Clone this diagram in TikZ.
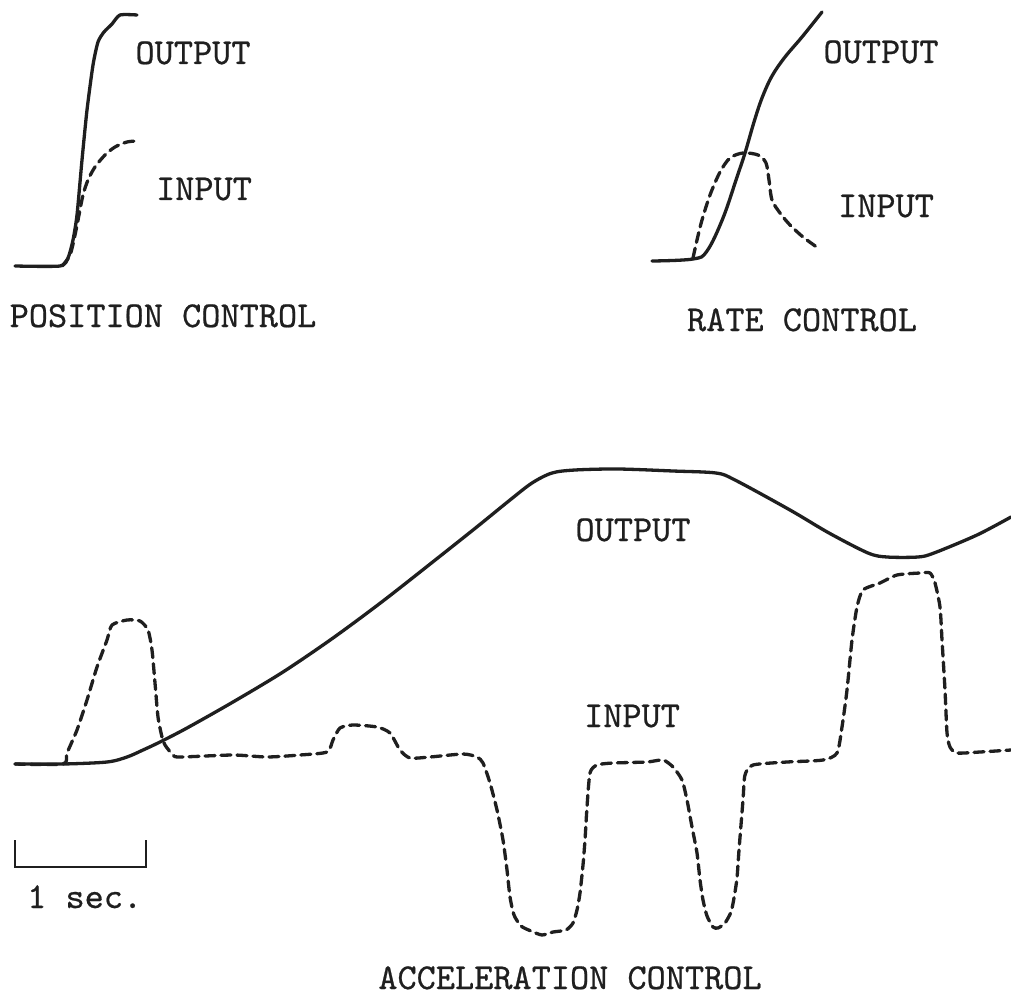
\documentclass[tikz,border=0pt]{standalone}
\usepackage{fontspec}
\newfontfamily\twfont{lmmono10-regular}[Extension=.otf, FakeBold=0.6]
\begin{document}
\begin{tikzpicture}[x=1pt,y=-1pt,
  trace/.style={line width=3.3pt, line cap=round, line join=round, draw=black!88},
  dtrace/.style={trace, dash pattern=on 10pt off 6pt},
  lbl/.style={font=\fontsize{36.5}{40}\twfont, text=black!88, inner sep=0pt, anchor=base},
  bar/.style={line width=2.8pt, draw=black!88}]
\useasboundingbox[fill=white] (0,0) rectangle (1011,1003);

% ---------- POSITION CONTROL ----------
\draw[trace] plot[smooth, tension=0.4] coordinates {(15,266) (60,266) (68,258) (73,240) (77,215) (82,160) (87,110) (93,65) (98,42) (104,32) (112,24) (120,15) (137,15)};
\draw[dtrace] plot[smooth, tension=0.5] coordinates {(62,266) (70,255) (75,235) (79,215) (83,195) (88,180) (95,167) (105,155) (115,147) (127,142) (137,141)};
\node[lbl] (posout) at (193,64) {OUTPUT};
\node[lbl] (posin) at (204,200) {INPUT};
\node[lbl] (postitle) at (163,327) {POSITION CONTROL};

% ---------- RATE CONTROL ----------
\draw[trace] plot[smooth, tension=0.6] coordinates {(652,261) (693,259) (707,251) (723,218) (737,177) (745,153) (754,122) (762,98) (772,76) (785,57) (802,37) (822,12)};
\draw[dtrace] plot[smooth, tension=0.5] coordinates {(693,258) (697,240) (702,220) (710,195) (720,172) (730,158) (743,153) (758,155) (766,163) (769,180) (772,200) (780,213) (790,225) (803,237) (818,248)};
\node[lbl] (rateout) at (881,63) {OUTPUT};
\node[lbl] (ratein) at (886,217) {INPUT};
\node[lbl] (ratetitle) at (802,331) {RATE CONTROL};

% ---------- ACCELERATION CONTROL ----------
\draw[trace] plot[smooth, tension=0.5] coordinates {(15,764) (63,764) (107,762) (127,757) (143,750) (160,742) (187,728) (233,702) (283,672) (333,638) (383,601) (439,557) (478,526) (510,500) (532,483) (552,473) (575,470) (618,469) (673,471) (716,473) (735,480) (790,510) (829,533) (868,553) (887,557) (918,557) (934,553) (977,535) (1011,517)};
\draw[dtrace] plot[smooth, tension=0.4] coordinates {(15,764) (63,764) (67,753) (77,730) (87,700) (97,667) (107,640) (112,625) (127,620) (140,621) (148,630) (152,650) (155,683) (158,717) (162,737) (165,745) (173,755) (180,757) (233,755) (267,757) (300,755) (327,752) (333,740) (340,728) (353,725) (377,727) (390,733) (400,750) (410,758) (430,757) (463,754) (477,757) (483,763) (490,783) (497,810) (503,840) (507,870) (510,897) (514,915) (521,926) (531,931) (542,935) (553,932) (566,930) (573,923) (577,910) (580,893) (583,865) (585,840) (587,807) (590,773) (597,765) (613,763) (647,762) (663,760) (673,767) (682,780) (687,800) (692,827) (697,853) (700,880) (703,900) (707,916) (713,927) (718,928) (725,923) (731,912) (734,898) (737,878) (739,850) (743,800) (745,775) (753,765) (787,762) (823,760) (837,753) (842,727) (847,690) (852,640) (857,607) (863,590) (880,583) (897,575) (920,573) (930,573) (935,583) (940,607) (942,640) (945,690) (947,733) (950,747) (957,753) (980,752) (1011,750)};
\node[lbl] (accout) at (633,541) {OUTPUT};
\node[lbl] (accin) at (632,727) {INPUT};
\node[lbl] (acctitle) at (570,989) {ACCELERATION CONTROL};

% scale bar
\coordinate (sb1) at (15,840);
\coordinate (sb2) at (15,867);
\coordinate (sb3) at (146,867);
\coordinate (sb4) at (146,840);
\draw[bar] (sb1) -- (sb2) -- (sb3) -- (sb4);
\node[lbl, anchor=base west] (sec) at (27,908) {1 sec.};
\end{tikzpicture}
\end{document}
